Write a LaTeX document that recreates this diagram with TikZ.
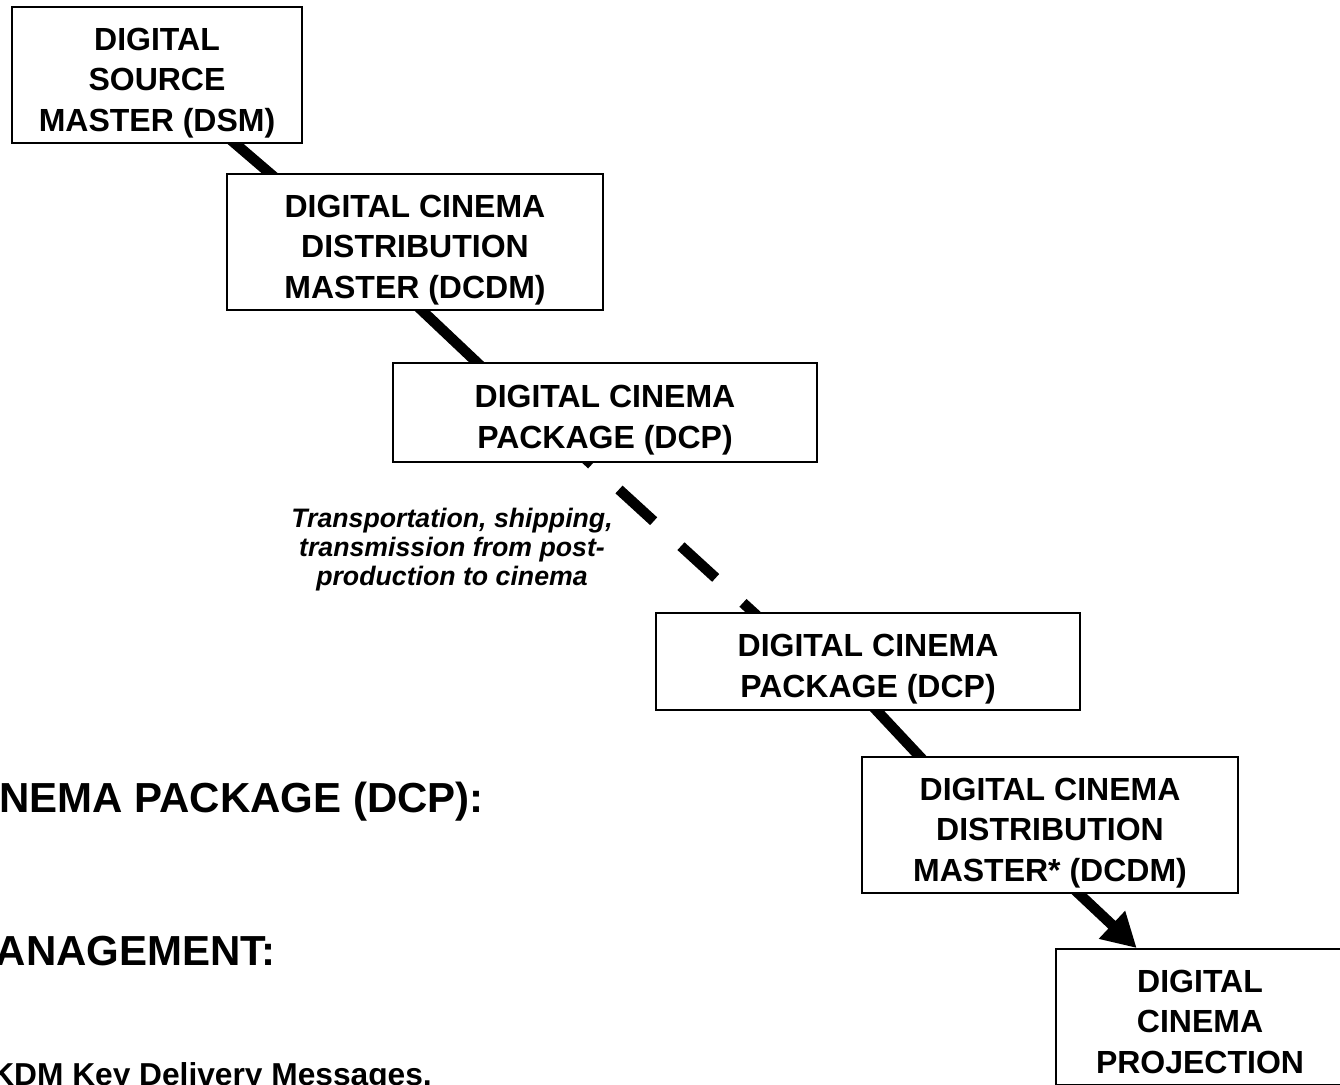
\documentclass[tikz,border=0pt]{standalone}
\usepackage{fontspec}
\setmainfont{Liberation Sans}
\usetikzlibrary{arrows.meta,calc,backgrounds}

% struts that fix the padding above the first line and below the last line of a box
\newcommand\stagetop{\rule{0pt}{43pt}}
\newcommand\stagebottom{\rule[-12pt]{0pt}{12pt}}

\begin{document}
\begin{tikzpicture}[x=1pt,y=-1pt,
  stagebox/.style={draw, fill=white, line width=1.9pt, align=center, inner sep=0pt,
    font=\fontsize{32}{40.5}\selectfont\bfseries},
  link/.style={line width=10.5pt, line cap=butt},
  notetext/.style={font=\fontsize{26.7}{29}\selectfont\bfseries\itshape, align=center},
  headtext/.style={font=\fontsize{42}{48}\selectfont\bfseries, anchor=base east, inner sep=0pt},
  itemtext/.style={font=\fontsize{31.7}{38}\selectfont\bfseries, anchor=base east, inner sep=0pt}]
\useasboundingbox (0,0) rectangle (1340,1084);
\clip (0,0) rectangle (1340,1084);

% the chain of stages
\node[stagebox, minimum width=290pt, minimum height=136pt] (dsm) at (157,75)
  {\stagetop DIGITAL\\SOURCE\\MASTER (DSM)\stagebottom};
\node[stagebox, minimum width=376pt, minimum height=136pt] (dcdm) at (415,242)
  {\stagetop DIGITAL CINEMA\\DISTRIBUTION\\MASTER (DCDM)\stagebottom};
\node[stagebox, minimum width=424pt, minimum height=99pt] (dcpA) at (605,412.5)
  {\stagetop DIGITAL CINEMA\\PACKAGE (DCP)\stagebottom};
\node[stagebox, minimum width=424pt, minimum height=97pt] (dcpB) at (868,661.5)
  {\stagetop DIGITAL CINEMA\\PACKAGE (DCP)\stagebottom};
\node[stagebox, minimum width=376pt, minimum height=136pt] (dcdmB) at (1050,825)
  {\stagetop DIGITAL CINEMA\\DISTRIBUTION\\MASTER* (DCDM)\stagebottom};
\node[stagebox, minimum width=288pt, minimum height=136pt] (proj) at (1200,1017)
  {\stagetop DIGITAL\\CINEMA\\PROJECTION\stagebottom};

% connectors run behind the boxes
\begin{scope}[on background layer]
  \draw[link] ($(dsm.center)+(42.5,38)$) -- ($(dcdm.center)+(-110.5,-39)$);
  \draw[link] ($(dcdm.center)+(-20,43)$) -- ($(dcpA.center)+(-100,-23.5)$);
  \draw[link, dash pattern=on 47pt off 37pt]
    ($(dcpA.center)+(-48,20.3)$) -- ($(dcpB.center)+(-97,-33)$);
  \draw[link] ($(dcpB.center)+(-21.5,16.8)$) -- ($(dcdmB.center)+(-102,-38.3)$);
  \draw[link, -{Triangle[length=34pt,width=36pt]}]
    ($(dcdmB.center)+(-2.1,39.6)$) -- ($(proj.north)+(-63.3,0)$);
\end{scope}

% label of the delivery step
\node[notetext] (transport) at (452,550)
  {Transportation, shipping,\\transmission from post-\\production to cinema};

% headings at the lower left
\node[headtext] (dcphead) at (484,812) {NEMA PACKAGE (DCP):};
\node[headtext] (keyhead) at (276,965) {ANAGEMENT:};
\node[itemtext] (kdmitem) at (432,1085) {KDM Key Delivery Messages,};
\end{tikzpicture}
\end{document}
